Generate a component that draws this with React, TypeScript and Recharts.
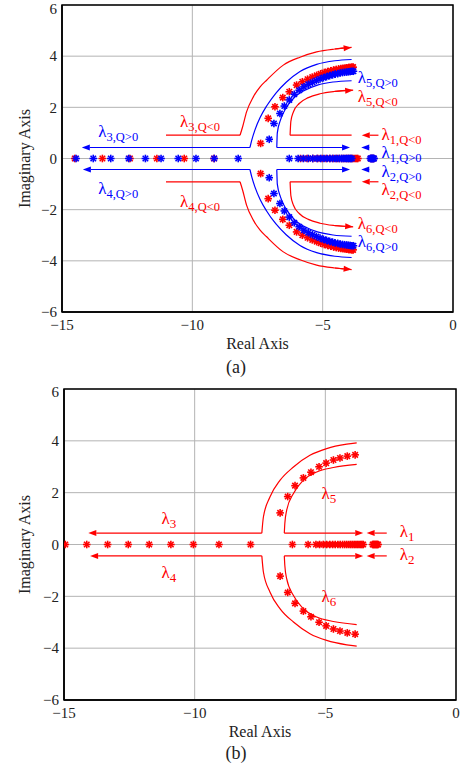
import React from "react";
import {
  CartesianGrid,
  ReferenceArea,
  ReferenceDot,
  ReferenceLine,
  Scatter,
  ScatterChart,
  XAxis,
  YAxis,
} from "recharts";

const RED = "#ff0000";
const BLUE = "#0000ff";
const GRID = "#b4b4b4";
const INK = "#222222";
const FONT = "'Liberation Serif', 'DejaVu Serif', serif";

const X_TICKS = [-15, -10, -5, 0];
const Y_TICKS = [-6, -4, -2, 0, 2, 4, 6];

// ---- (a) eigenvalues, Q<0 (red) and Q>0 (blue) ----
const A_REAL_QNEG = [
  -14.51, -13.45, -12.39, -11.36, -10.31, -9.17, -5.85, -5.6, -5.38, -5.19, -5.02, -4.87, -4.73, -4.6,
  -4.48, -4.37, -4.27, -4.18, -4.09, -4.01, -3.93, -3.86, -3.8, -3.74, -3.69, -3.65, -3.15, -3.1, -3.05,
];
const A_REAL_QPOS = [
  -14.46, -13.8, -13.13, -12.44, -11.8, -11.2, -10.54, -9.86, -9.16, -8.24, -6.28, -5.94, -5.74, -5.55,
  -5.38, -5.22, -5.08, -4.95, -4.83, -4.72, -4.62, -4.53, -4.44, -4.36, -4.28, -4.21, -4.14, -4.08,
  -4.02, -3.97, -3.92, -3.88, -3.17, -3.15, -3.13, -3.11, -3.09, -3.07, -3.05, -3.03,
];
const A_UP_QNEG: [number, number][] = [
  [-7.38, 0.59], [-7.09, 1.57], [-6.83, 2.02], [-6.53, 2.38], [-6.28, 2.61], [-6.0, 2.87], [-5.78, 3.0],
  [-5.58, 3.1], [-5.4, 3.18], [-5.23, 3.25], [-5.08, 3.31], [-4.94, 3.36], [-4.81, 3.4], [-4.69, 3.43],
  [-4.58, 3.46], [-4.48, 3.48], [-4.39, 3.5], [-4.3, 3.52], [-4.22, 3.53], [-4.14, 3.54], [-4.07, 3.55],
  [-4.0, 3.56], [-3.94, 3.56], [-3.88, 3.57], [-3.83, 3.57],
];
const A_DN_QNEG: [number, number][] = [
  [-7.38, -0.59], [-7.09, -1.57], [-6.83, -2.02], [-6.53, -2.38], [-6.28, -2.61], [-6.0, -2.87], [-5.78, -3.0],
  [-5.58, -3.1], [-5.4, -3.18], [-5.23, -3.25], [-5.08, -3.31], [-4.94, -3.36], [-4.81, -3.4], [-4.69, -3.43],
  [-4.58, -3.46], [-4.48, -3.48], [-4.39, -3.5], [-4.3, -3.52], [-4.22, -3.53], [-4.14, -3.54], [-4.07, -3.55],
  [-4.0, -3.56], [-3.94, -3.56], [-3.88, -3.57], [-3.83, -3.57],
];
const A_UP_QPOS: [number, number][] = [
  [-7.05, 0.75], [-6.87, 1.37], [-6.64, 1.76], [-6.47, 2.05], [-6.28, 2.29], [-6.09, 2.51], [-5.9, 2.67],
  [-5.72, 2.8], [-5.55, 2.9], [-5.39, 2.98], [-5.24, 3.05], [-5.1, 3.11], [-4.97, 3.16], [-4.85, 3.2],
  [-4.73, 3.24], [-4.62, 3.27], [-4.52, 3.3], [-4.42, 3.32], [-4.33, 3.34], [-4.24, 3.36], [-4.16, 3.37],
  [-4.08, 3.38], [-4.01, 3.39], [-3.94, 3.4], [-3.88, 3.41], [-3.82, 3.41],
];
const A_DN_QPOS: [number, number][] = [
  [-7.05, -0.75], [-6.87, -1.37], [-6.64, -1.76], [-6.47, -2.05], [-6.28, -2.29], [-6.09, -2.51], [-5.9, -2.67],
  [-5.72, -2.8], [-5.55, -2.9], [-5.39, -2.98], [-5.24, -3.05], [-5.1, -3.11], [-4.97, -3.16], [-4.85, -3.2],
  [-4.73, -3.24], [-4.62, -3.27], [-4.52, -3.3], [-4.42, -3.32], [-4.33, -3.34], [-4.24, -3.36], [-4.16, -3.37],
  [-4.08, -3.38], [-4.01, -3.39], [-3.94, -3.4], [-3.88, -3.41], [-3.82, -3.41],
];

// ---- (b) eigenvalues ----
const B_REAL = [
  -14.95, -14.13, -13.33, -12.54, -11.74, -10.91, -10.05, -9.07, -7.86, -6.26, -5.66, -5.36, -5.22, -5.08,
  -4.95, -4.83, -4.72, -4.62, -4.52, -4.43, -4.34, -4.26, -4.18, -4.1, -4.03, -3.96, -3.89, -3.83, -3.77,
  -3.71, -3.65, -3.6, -3.55, -3.19, -3.16, -3.13, -3.1, -3.07, -3.04, -3.01, -2.98,
];
const B_UP: [number, number][] = [
  [-6.73, 1.22], [-6.44, 1.85], [-6.16, 2.27], [-5.84, 2.57], [-5.55, 2.79], [-5.24, 3.0],
  [-4.97, 3.14], [-4.69, 3.26], [-4.44, 3.34], [-4.16, 3.41], [-3.86, 3.46],
];
const B_DN: [number, number][] = [
  [-6.73, -1.22], [-6.44, -1.85], [-6.16, -2.27], [-5.84, -2.57], [-5.55, -2.79], [-5.24, -3.0],
  [-4.97, -3.14], [-4.69, -3.26], [-4.44, -3.34], [-4.16, -3.41], [-3.86, -3.46],
];

// ---- guide curves (upper halves; lower halves are their mirror) ----
const A_GUIDE_OUTER_QNEG: [number, number][] = [
  [-8.17, 0.91], [-8.07, 1.24], [-7.92, 1.82], [-7.66, 2.41], [-7.4, 2.8], [-7.15, 3.06],
  [-6.51, 3.65], [-5.87, 3.96], [-5.23, 4.17], [-4.53, 4.28], [-3.89, 4.34],
];
const A_GUIDE_OUTER_QPOS: [number, number][] = [
  [-7.79, 0.43], [-7.72, 0.72], [-7.6, 1.11], [-7.4, 1.6], [-7.15, 2.05], [-6.8, 2.55],
  [-6.4, 2.98], [-5.87, 3.4], [-5.23, 3.68], [-4.53, 3.82], [-3.89, 3.87],
];
const A_GUIDE_INNER_QPOS: [number, number][] = [
  [-6.76, 0.43], [-6.74, 1.0], [-6.62, 1.5], [-6.4, 1.98], [-6.1, 2.37], [-5.7, 2.66],
  [-5.2, 2.87], [-4.6, 2.99], [-3.89, 3.04],
];
const A_GUIDE_INNER_QNEG: [number, number][] = [
  [-6.25, 0.91], [-6.22, 1.45], [-6.12, 1.83], [-5.9, 2.15], [-5.55, 2.38], [-5.1, 2.53],
  [-4.55, 2.62], [-3.83, 2.67],
];
const B_GUIDE_OUTER: [number, number][] = [
  [-7.43, 0.44], [-7.37, 1.06], [-7.12, 1.83], [-6.73, 2.48], [-6.22, 2.99], [-5.59, 3.44],
  [-4.95, 3.7], [-4.18, 3.87], [-3.8, 3.92],
];
const B_GUIDE_INNER: [number, number][] = [
  [-6.57, 0.44], [-6.55, 0.81], [-6.48, 1.32], [-6.22, 1.97], [-5.84, 2.48], [-5.33, 2.8],
  [-4.69, 2.97], [-3.8, 3.09],
];

type Pt = [number, number];
type Seg = { from: Pt; to: Pt; color: string; head: boolean };
type Guide = { path: Pt[]; color: string };
type Lab = { at: Pt; sub: string; color: string };

const flip = (p: Pt[]): Pt[] => p.map(([x, y]) => [x, -y] as Pt);
const lastSeg = (p: Pt[], color: string, mirror = false): Seg => {
  const a = p[p.length - 2];
  const b = p[p.length - 1];
  const s = mirror ? -1 : 1;
  return { from: [a[0], a[1] * s], to: [b[0], b[1] * s], color, head: true };
};

const A_GUIDES: Guide[] = [
  { path: A_GUIDE_OUTER_QNEG, color: RED },
  { path: flip(A_GUIDE_OUTER_QNEG), color: RED },
  { path: A_GUIDE_INNER_QNEG, color: RED },
  { path: flip(A_GUIDE_INNER_QNEG), color: RED },
  { path: A_GUIDE_OUTER_QPOS, color: BLUE },
  { path: flip(A_GUIDE_OUTER_QPOS), color: BLUE },
  { path: A_GUIDE_INNER_QPOS, color: BLUE },
  { path: flip(A_GUIDE_INNER_QPOS), color: BLUE },
];
const A_SEGS: Seg[] = [
  { from: [-7.79, 0.43], to: [-14.24, 0.43], color: BLUE, head: true },
  { from: [-7.79, -0.43], to: [-14.2, -0.43], color: BLUE, head: true },
  { from: [-6.76, 0.43], to: [-3.95, 0.43], color: BLUE, head: true },
  { from: [-6.76, -0.43], to: [-3.95, -0.43], color: BLUE, head: true },
  { from: [-3.27, 0.43], to: [-3.52, 0.43], color: BLUE, head: true },
  { from: [-3.27, -0.43], to: [-3.52, -0.43], color: BLUE, head: true },
  { from: [-11.01, 0.91], to: [-8.17, 0.91], color: RED, head: false },
  { from: [-11.01, -0.91], to: [-8.17, -0.91], color: RED, head: false },
  { from: [-6.25, 0.91], to: [-3.89, 0.91], color: RED, head: false },
  { from: [-6.25, -0.91], to: [-3.89, -0.91], color: RED, head: false },
  { from: [-2.86, 0.91], to: [-3.5, 0.91], color: RED, head: true },
  { from: [-2.86, -0.91], to: [-3.5, -0.91], color: RED, head: true },
  lastSeg(A_GUIDE_OUTER_QNEG, RED),
  lastSeg(A_GUIDE_OUTER_QNEG, RED, true),
  lastSeg(A_GUIDE_INNER_QNEG, RED),
  lastSeg(A_GUIDE_INNER_QNEG, RED, true),
];
const A_LABELS: Lab[] = [
  { at: [-13.61, 0.84], sub: "3,Q>0", color: BLUE },
  { at: [-10.47, 1.24], sub: "3,Q<0", color: RED },
  { at: [-13.61, -1.37], sub: "4,Q>0", color: BLUE },
  { at: [-10.47, -1.89], sub: "4,Q<0", color: RED },
  { at: [-3.65, 2.94], sub: "5,Q>0", color: BLUE },
  { at: [-3.65, 2.2], sub: "5,Q<0", color: RED },
  { at: [-2.74, 0.72], sub: "1,Q<0", color: RED },
  { at: [-2.74, 0.02], sub: "1,Q>0", color: BLUE },
  { at: [-2.74, -0.72], sub: "2,Q>0", color: BLUE },
  { at: [-2.74, -1.43], sub: "2,Q<0", color: RED },
  { at: [-3.65, -2.74], sub: "6,Q<0", color: RED },
  { at: [-3.65, -3.46], sub: "6,Q>0", color: BLUE },
];

const B_GUIDES: Guide[] = [
  { path: B_GUIDE_OUTER, color: RED },
  { path: flip(B_GUIDE_OUTER), color: RED },
  { path: B_GUIDE_INNER, color: RED },
  { path: flip(B_GUIDE_INNER), color: RED },
];
const B_SEGS: Seg[] = [
  { from: [-7.43, 0.44], to: [-14.07, 0.44], color: RED, head: true },
  { from: [-7.43, -0.44], to: [-14.0, -0.44], color: RED, head: true },
  { from: [-6.57, 0.44], to: [-3.55, 0.44], color: RED, head: true },
  { from: [-6.57, -0.44], to: [-3.55, -0.44], color: RED, head: true },
  { from: [-2.65, 0.44], to: [-3.42, 0.44], color: RED, head: true },
  { from: [-2.65, -0.44], to: [-3.42, -0.44], color: RED, head: true },
];
const B_LABELS: Lab[] = [
  { at: [-11.27, 0.81], sub: "3", color: RED },
  { at: [-11.27, -1.31], sub: "4", color: RED },
  { at: [-5.15, 1.77], sub: "5", color: RED },
  { at: [-5.15, -2.21], sub: "6", color: RED },
  { at: [-2.15, 0.29], sub: "1", color: RED },
  { at: [-2.15, -0.61], sub: "2", color: RED },
];

const onAxis = (xs: number[]) => xs.map((x) => ({ x, y: 0 }));
const toPts = (p: Pt[]) => p.map(([x, y]) => ({ x, y }));
const minus = (v: number) => String(v).replace("-", "\u2212");

function Asterisk({ cx, cy, color }: { cx: number; cy: number; color: string }) {
  const r = 3.8;
  const d = r * 0.72;
  return (
    <g stroke={color} strokeWidth={1.6}>
      <line x1={cx - r} y1={cy} x2={cx + r} y2={cy} />
      <line x1={cx} y1={cy - r} x2={cx} y2={cy + r} />
      <line x1={cx - d} y1={cy - d} x2={cx + d} y2={cy + d} />
      <line x1={cx - d} y1={cy + d} x2={cx + d} y2={cy - d} />
    </g>
  );
}
const star = (color: string) => (p: any) => <Asterisk cx={p.cx} cy={p.cy} color={color} />;

const arrow = (color: string, head: boolean) => (p: any) => {
  const { x1, y1, x2, y2 } = p;
  const a = Math.atan2(y2 - y1, x2 - x1);
  const L = 8;
  const W = 3;
  const bx = x2 - L * Math.cos(a);
  const by = y2 - L * Math.sin(a);
  const tri = `${x2},${y2} ${bx - W * Math.sin(a)},${by + W * Math.cos(a)} ${bx + W * Math.sin(a)},${by - W * Math.cos(a)}`;
  return (
    <g>
      <line x1={x1} y1={y1} x2={head ? bx : x2} y2={head ? by : y2} stroke={color} strokeWidth={1.2} />
      {head && <polygon points={tri} fill={color} />}
    </g>
  );
};

const lambda = (sub: string, color: string, big: number, small: number) => (p: any) => (
  <text x={p.cx} y={p.cy} fill={color} style={{ fontFamily: FONT }}>
    <tspan fontSize={big}>λ</tspan>
    <tspan fontSize={small} dy={4}>{sub}</tspan>
  </text>
);

type PanelProps = {
  top: number;
  height: number;
  margin: { top: number; right: number; bottom: number; left: number };
  yWidth: number;
  xHeight: number;
  xLabelOffset: number;
  series: { data: { x: number; y: number }[]; color: string }[];
  guides: Guide[];
  segs: Seg[];
  labels: Lab[];
  labelSize: [number, number];
  caption: string;
  captionTop: number;
};

function Panel(props: PanelProps) {
  const { top, height, margin, yWidth, xHeight, xLabelOffset, series, guides, segs, labels, labelSize } = props;
  return (
    <>
      <div style={{ position: "absolute", left: 0, top, fontFamily: FONT }}>
        <ScatterChart width={462} height={height} margin={margin} style={{ fontFamily: FONT }}>
          <CartesianGrid stroke={GRID} strokeWidth={1} />
          <XAxis
            type="number"
            dataKey="x"
            domain={[-15, 0]}
            ticks={X_TICKS}
            allowDataOverflow
            height={xHeight}
            tickSize={0}
            tickMargin={7}
            tickLine={false}
            tickFormatter={minus}
            tick={{ fill: INK, fontSize: 15, style: { fontFamily: FONT } }}
            axisLine={{ stroke: "#000", strokeWidth: 1.5 }}
            label={{
              value: "Real Axis",
              position: "insideBottom",
              offset: xLabelOffset,
              fill: INK,
              fontSize: 16,
              style: { fontFamily: FONT },
            }}
          />
          <YAxis
            type="number"
            dataKey="y"
            domain={[-6, 6]}
            ticks={Y_TICKS}
            allowDataOverflow
            width={yWidth}
            tickSize={0}
            tickMargin={5}
            tickLine={false}
            tickFormatter={minus}
            tick={{ fill: INK, fontSize: 15, style: { fontFamily: FONT } }}
            axisLine={{ stroke: "#000", strokeWidth: 1.5 }}
            label={{
              value: "Imaginary Axis",
              angle: -90,
              position: "insideLeft",
              offset: 24,
              fill: INK,
              fontSize: 16,
              style: { textAnchor: "middle", fontFamily: FONT },
            }}
          />
          <ReferenceArea x1={-15} x2={0} y1={-6} y2={6} fill="none" stroke="#000" strokeWidth={1.5} />
          {guides.map((g, i) => (
            <Scatter
              key={`g${i}`}
              data={toPts(g.path)}
              line={{ stroke: g.color, strokeWidth: 1.2 }}
              lineJointType="monotoneX"
              shape={() => <g />}
              isAnimationActive={false}
            />
          ))}
          {segs.map((s, i) => (
            <ReferenceLine
              key={`s${i}`}
              segment={[
                { x: s.from[0], y: s.from[1] },
                { x: s.to[0], y: s.to[1] },
              ]}
              shape={arrow(s.color, s.head)}
            />
          ))}
          {series.map((s, i) => (
            <Scatter key={`p${i}`} data={s.data} shape={star(s.color)} isAnimationActive={false} />
          ))}
          {labels.map((l, i) => (
            <ReferenceDot key={`l${i}`} x={l.at[0]} y={l.at[1]} r={0} shape={lambda(l.sub, l.color, labelSize[0], labelSize[1])} />
          ))}
        </ScatterChart>
      </div>
      <div
        style={{
          position: "absolute",
          left: 0,
          width: 472,
          top: props.captionTop,
          textAlign: "center",
          fontSize: 18,
          lineHeight: "20px",
          color: INK,
          fontFamily: FONT,
        }}
      >
        {props.caption}
      </div>
    </>
  );
}

export default function App() {
  return (
    <div style={{ position: "absolute", left: 0, top: 0, width: 462, height: 770, background: "#fff", fontFamily: FONT }}>
      <Panel
        top={0}
        height={352}
        margin={{ top: 5, right: 9, bottom: 0, left: 0 }}
        yWidth={62}
        xHeight={40}
        xLabelOffset={3}
        series={[
          { data: onAxis(A_REAL_QNEG), color: RED },
          { data: toPts(A_UP_QNEG), color: RED },
          { data: toPts(A_DN_QNEG), color: RED },
          { data: onAxis(A_REAL_QPOS), color: BLUE },
          { data: toPts(A_UP_QPOS), color: BLUE },
          { data: toPts(A_DN_QPOS), color: BLUE },
        ]}
        guides={A_GUIDES}
        segs={A_SEGS}
        labels={A_LABELS}
        labelSize={[17, 12.5]}
        caption="(a)"
        captionTop={357}
      />
      <Panel
        top={383}
        height={358}
        margin={{ top: 6, right: 6, bottom: 0, left: 0 }}
        yWidth={64}
        xHeight={41}
        xLabelOffset={4}
        series={[
          { data: onAxis(B_REAL), color: RED },
          { data: toPts(B_UP), color: RED },
          { data: toPts(B_DN), color: RED },
        ]}
        guides={B_GUIDES}
        segs={B_SEGS}
        labels={B_LABELS}
        labelSize={[17, 13]}
        caption="(b)"
        captionTop={743}
      />
    </div>
  );
}
